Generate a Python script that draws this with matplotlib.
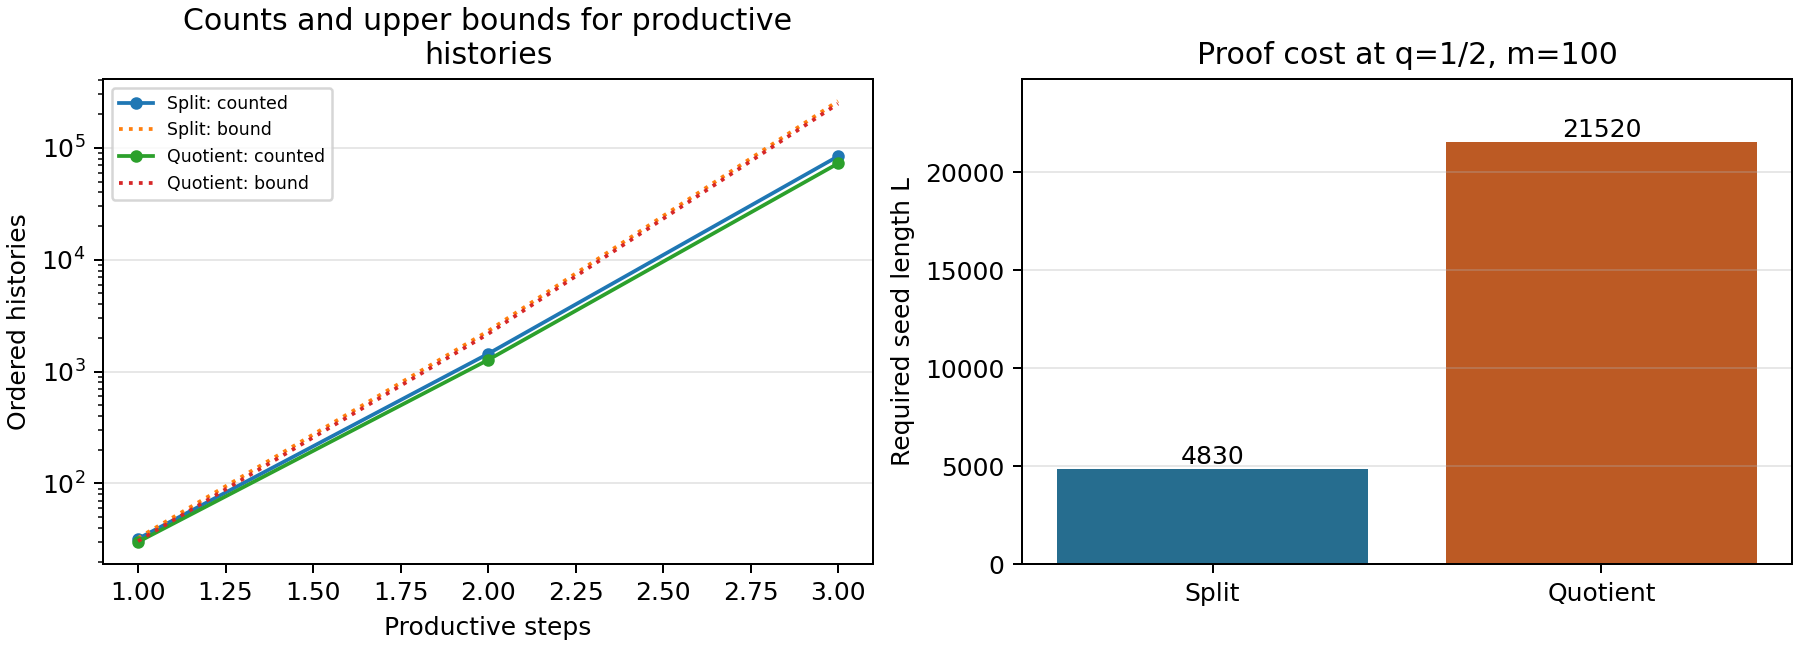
import matplotlib
matplotlib.use("Agg")
import matplotlib.pyplot as plt

# ---- data ----
steps = [1, 2, 3]
split_counted = [32, 1440, 84000]
split_bound = [32.5, 2300, 262000]
quotient_counted = [30, 1270, 72500]
quotient_bound = [30.5, 2170, 248000]

bar_categories = ["Split", "Quotient"]
bar_values = [4830, 21520]
bar_colors = ["#266d8f", "#bc5a24"]

fig = plt.figure(figsize=(10, 3.6), dpi=180)
ax1 = fig.add_axes([103 / 1800, 1 - 564 / 648, 770 / 1800, 485 / 648])
ax2 = fig.add_axes([1022 / 1800, 1 - 564 / 648, 770 / 1800, 485 / 648])

# ---- left: counts and bounds ----
ax1.plot(steps, split_counted, color="tab:blue", marker="o", markersize=4, lw=1.5, label="Split: counted")
ax1.plot(steps, split_bound, color="tab:orange", ls=":", lw=1.5, label="Split: bound")
ax1.plot(steps, quotient_counted, color="tab:green", marker="o", markersize=4, lw=1.5, label="Quotient: counted")
ax1.plot(steps, quotient_bound, color="tab:red", ls=":", lw=1.5, label="Quotient: bound")
ax1.set_yscale("log")
ax1.set_xlabel("Productive steps")
ax1.set_ylabel("Ordered histories")
ax1.set_title("Counts and upper bounds for productive\nhistories")
ax1.grid(axis="y", alpha=0.3)
ax1.legend(loc="upper left", fontsize="x-small")

# ---- right: proof cost ----
x = range(len(bar_categories))
bars = ax2.bar(x, bar_values, color=bar_colors, width=0.8)
ax2.set_xticks(list(x))
ax2.set_xticklabels(bar_categories)
ax2.set_ylim(0, max(bar_values) * 1.15)
ax2.set_ylabel("Required seed length L")
ax2.set_title("Proof cost at q=1/2, m=100")
ax2.grid(axis="y", alpha=0.3)
ax2.bar_label(bars, labels=[str(v) for v in bar_values], fontsize=10)

fig.savefig("out.png", dpi=180)
